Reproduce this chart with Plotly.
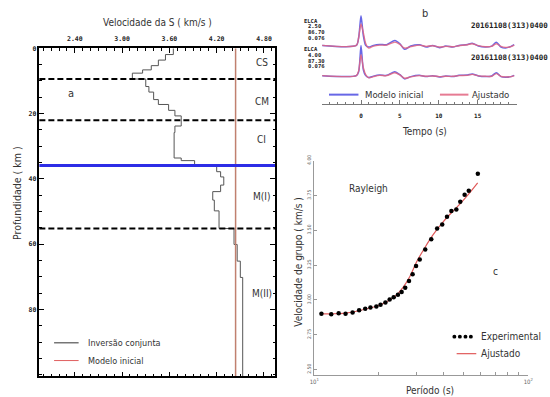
import plotly.graph_objects as go

W, H = 550, 397
def px(x): return x / W
def py(y): return 1 - y / H

FONT = "Liberation Sans Narrow, DejaVu Sans Condensed, Arial Narrow, sans-serif"
MONO = "DejaVu Sans Mono, Liberation Mono, monospace"

# ---------------- panel a : S-velocity model ----------------
layer_top_km = [0, 1.9, 3.6, 5.3, 6.6, 7.6, 9.4, 11.7, 13.4, 15.7, 17.2, 19.0, 20.7,
                23.8, 25.8, 33.6, 34.4, 36.0, 37.8, 39.4, 41.9, 43.9, 46.5, 49.8,
                55.2, 60.1, 65.2, 70.2]
layer_vs_kms = [3.65, 3.55, 3.46, 3.37, 3.26, 3.13, 3.30, 3.34, 3.40, 3.46, 3.59, 3.67, 3.75,
                3.67, 3.66, 3.75, 3.92, 4.20, 4.25, 4.29, 4.25, 4.15, 4.17, 4.23,
                4.42, 4.46, 4.50, 4.53]
model_bottom_km = 100.5
initial_model_vs = 4.44
dashed_boundaries_km = [9.4, 22.0, 55.2]
moho_km = 35.9
vs_ticks = [2.40, 3.00, 3.60, 4.20, 4.80]
depth_ticks = [0, 20, 40, 60, 80]

# ---------------- panel b : receiver functions ----------------
rf_time_s = [-5.0, -0.6, -0.3, 0.0, 0.3, 0.6, 1.0, 1.6, 2.4, 3.3, 4.35, 5.0, 5.6, 6.4, 7.5,
             8.4, 9.2, 10.1, 10.9, 11.8, 12.6, 13.7, 14.3, 15.1, 16.0, 16.8, 17.4, 18.0,
             18.6, 19.3, 19.7]
rf1_initial = [0, 0, 8, 30, 10, 0, -1.7, 0, 1, 0.7, 5, 1.7, -4, -0.7, 0.7, -1.7, 0, -2.3,
               -0.7, -1.7, 0, 1, 2.3, -0.7, -1.7, -0.7, 3.3, -1.7, -2.7, -1, 0.7]
rf1_fit = [0, 0, 8, 21.7, 13, 2, -2.7, -0.7, 0.3, 0.3, 3.3, 1, -2.7, -1.3, 0.3, -1, -0.3,
           -1.7, -1, -1.3, -0.3, 0.7, 1.7, -0.3, -1.3, -1, 1.7, -1, -2, -1.3, 0.3]
rf2_initial = [0, 0, 4, 30.7, 6, 0, -2, -0.5, 0.7, 0.3, 4, 1, -3.3, -1, 0.3, -1, 0, -1.3,
               -0.3, -1, 0.3, 0.7, 1.7, -0.3, -1, -0.3, 3, -1, -1.7, -1, 0.3]
rf2_fit = [0, 0, 5, 21.3, 8, 1, -2.3, -1, 0.3, 0, 3, 0.7, -2.7, -1.3, 0, -0.7, -0.3, -1,
           -0.7, -0.7, 0, 0.3, 1.3, -0.3, -0.7, -0.7, 2, -0.7, -1.3, -1, 0]
rf_labels = [["ELCA", "2.50", "86.70", "0.076"], ["ELCA", "4.00", "87.30", "0.076"]]
rf_event = "20161108(313)0400"
time_ticks = [0, 5, 10, 15]

# ---------------- panel c : Rayleigh group velocity dispersion ----------------
period_obs_s = [10.8, 12.0, 13.0, 14.0, 15.1, 16.2, 17.3, 18.3, 19.5, 20.4, 21.5, 22.5, 23.5,
                24.6, 25.6, 26.6, 27.7, 28.8, 29.9, 31.1, 33.0, 35.2, 37.5, 39.6, 41.7,
                43.7, 46.1, 48.1, 50.4, 52.7, 58.1]
u_obs_kms = [2.900, 2.896, 2.903, 2.900, 2.910, 2.925, 2.937, 2.946, 2.953, 2.965, 2.981,
             3.002, 3.019, 3.036, 3.057, 3.087, 3.135, 3.184, 3.243, 3.290, 3.361, 3.436,
             3.512, 3.542, 3.597, 3.639, 3.649, 3.705, 3.755, 3.783, 3.906]
period_fit_s = [10.8, 12, 14, 16, 18, 20, 22, 24, 26, 28, 30, 33, 36, 40, 44, 48, 52, 58]
u_fit_kms = [2.900, 2.900, 2.905, 2.920, 2.940, 2.960, 2.990, 3.030, 3.090, 3.170, 3.270,
             3.380, 3.470, 3.560, 3.630, 3.690, 3.750, 3.840]
u_ticks = [2.50, 2.75, 3.00, 3.25, 3.50, 3.75, 4.00]

BLUE = "rgba(90,90,228,0.92)"
PINK = "rgba(226,100,128,0.85)"

fig = go.Figure()

# panel a traces
fig.add_trace(go.Scatter(
    x=layer_vs_kms + [layer_vs_kms[-1]], y=layer_top_km + [model_bottom_km],
    mode="lines", line=dict(color="#555", width=1, shape="vh"),
    name="Inversão conjunta", xaxis="x", yaxis="y"))
fig.add_trace(go.Scatter(
    x=[initial_model_vs, initial_model_vs], y=[0, model_bottom_km],
    mode="lines", line=dict(color="#c0806f", width=1.5),
    name="Modelo inicial", xaxis="x", yaxis="y"))

# panel b traces
rf_offsets = [-40, -70.7]
for off, ini, fit in [(rf_offsets[0], rf1_initial, rf1_fit), (rf_offsets[1], rf2_initial, rf2_fit)]:
    fig.add_trace(go.Scatter(x=rf_time_s, y=[off + v for v in ini], mode="lines",
                             line=dict(color=BLUE, width=1.5, shape="spline", smoothing=0.7),
                             name="Modelo inicial", xaxis="x2", yaxis="y2"))
    fig.add_trace(go.Scatter(x=rf_time_s, y=[off + v for v in fit], mode="lines",
                             line=dict(color=PINK, width=1.4, shape="spline", smoothing=0.7),
                             name="Ajustado", xaxis="x2", yaxis="y2"))

# panel c traces
fig.add_trace(go.Scatter(x=period_fit_s, y=u_fit_kms, mode="lines",
                         line=dict(color="#e05a5a", width=1.2, shape="spline"),
                         name="Ajustado", xaxis="x3", yaxis="y3"))
fig.add_trace(go.Scatter(x=period_obs_s, y=u_obs_kms, mode="markers",
                         marker=dict(color="black", size=4.5),
                         name="Experimental", xaxis="x3", yaxis="y3"))

shapes = []
for d in dashed_boundaries_km:
    shapes.append(dict(type="line", xref="x domain", yref="y", x0=0, x1=1, y0=d, y1=d,
                       line=dict(color="black", width=2, dash="6px,3px")))
shapes.append(dict(type="line", xref="x domain", yref="y", x0=0, x1=1, y0=moho_km, y1=moho_km,
                   line=dict(color="rgb(45,45,230)", width=3)))

def pline(x0, x1, y, color, width):
    shapes.append(dict(type="line", xref="paper", yref="paper", x0=px(x0), x1=px(x1),
                       y0=py(y), y1=py(y), line=dict(color=color, width=width)))

# legends drawn as samples
pline(50, 75, 342, "#333", 1)
pline(50, 75, 360, "#e06060", 1)
pline(330, 360, 90, BLUE, 2)
pline(443, 472, 90, PINK, 2)
pline(460, 480, 353, "#e05a5a", 1.2)
for cx in [457.7, 463.3, 469, 474.5]:
    shapes.append(dict(type="circle", xref="paper", yref="paper",
                       x0=px(cx - 2), x1=px(cx + 2), y0=py(335.7 + 2), y1=py(335.7 - 2),
                       fillcolor="black", line=dict(width=0)))

annotations = []
def ann(x, y, text, size, family=FONT, xanchor="center", color="#333", angle=0, weight="normal"):
    annotations.append(dict(x=px(x), y=py(y), xref="paper", yref="paper", text=text,
                            showarrow=False, xanchor=xanchor, yanchor="middle", textangle=angle,
                            font=dict(family=family, size=size, color=color, weight=weight)))

def dann(xv, yv, text, size):
    annotations.append(dict(x=xv, y=yv, xref="x", yref="y", text=text, showarrow=False,
                            font=dict(family=FONT, size=size, color="#333")))

# panel a text
ann(155, 17, "Velocidade da S ( km/s )", 10)
ann(12, 190, "Profundidade ( km )", 10.5, angle=-90)
ann(67, 89, "a", 11)
dann(4.775, 4.2, "CS", 10)
dann(4.775, 16.3, "CM", 10)
dann(4.775, 27.8, "CI", 10)
dann(4.775, 45.3, "M(I)", 10)
dann(4.775, 75.2, "M(II)", 10)
ann(82, 342, "Inversão conjunta", 9, xanchor="left")
ann(82, 360, "Modelo inicial", 9, xanchor="left")

# panel b text
ann(428, 8, "b", 11)
for gi, base_y in enumerate([15, 44]):
    for li, t in enumerate(rf_labels[gi]):
        ann(303 if li == 0 else 307, base_y + li * 5.8, t, 5.5, family=MONO, xanchor="left",
            weight="bold", color="#222")
ann(473, 20, rf_event, 7.5, family=MONO, xanchor="left", weight="bold", color="#222")
ann(473, 52, rf_event, 7.5, family=MONO, xanchor="left", weight="bold", color="#222")
ann(365, 90, "Modelo inicial", 9.5, xanchor="left")
ann(474, 90, "Ajustado", 9.5, xanchor="left")
ann(427, 127, "Tempo (s)", 10)

# panel c text
ann(298, 260, "Velocidade de grupo ( km/s )", 10, angle=-90)
ann(370, 185, "Rayleigh", 10)
ann(500, 270, "c", 10)
ann(433, 390, "Período (s)", 10)
ann(483, 336, "Experimental", 10, xanchor="left")
ann(483, 353, "Ajustado", 10, xanchor="left")

fig.update_layout(
    width=W, height=H, margin=dict(l=0, r=0, t=0, b=0),
    paper_bgcolor="white", plot_bgcolor="white", showlegend=False,
    shapes=shapes, annotations=annotations,
    xaxis=dict(domain=[px(35), px(275)], range=[1.95, 4.94], side="top", anchor="y",
               tickvals=vs_ticks, ticktext=[f"{v:.2f}" for v in vs_ticks],
               tickfont=dict(family=MONO, size=6.5, color="#222", weight="bold"),
               ticks="inside", ticklen=5, tickcolor="black", mirror="ticks", showline=True,
               linecolor="black", linewidth=1.5, showgrid=False, zeroline=False,
               ticklabelstandoff=3,
               minor=dict(ticks="inside", ticklen=2.5, dtick=0.1, tick0=2.4, tickcolor="black")),
    yaxis=dict(domain=[py(376), py(43)], range=[model_bottom_km, 0], anchor="x",
               tickvals=depth_ticks, ticktext=[str(v) for v in depth_ticks],
               tickfont=dict(family=MONO, size=6.5, color="#222", weight="bold"),
               ticks="inside", ticklen=5, tickcolor="black", mirror="ticks", showline=True,
               linecolor="black", linewidth=1.5, showgrid=False, zeroline=False,
               minor=dict(ticks="inside", ticklen=2.5, dtick=5, tickcolor="black")),
    xaxis2=dict(domain=[px(323), px(521)], range=[-5, 20], anchor="y2",
                tickvals=time_ticks, ticktext=[str(v) for v in time_ticks],
                tickfont=dict(family=MONO, size=6, color="#222", weight="bold"),
                ticks="inside", ticklen=4, tickcolor="#777", showline=True, linecolor="#777",
                linewidth=1, showgrid=False, zeroline=False, ticklabelstandoff=5,
                minor=dict(ticks="inside", ticklen=2.5, dtick=1, tick0=-5, tickcolor="#777")),
    yaxis2=dict(domain=[py(100), 1.0], range=[-100, 0], anchor="x2", visible=False),
    xaxis3=dict(domain=[px(315), px(533)], type="log", range=[1, 2], anchor="y3",
                tickvals=[10, 100], ticktext=["10<sup>1</sup>", "10<sup>2</sup>"],
                tickfont=dict(family=FONT, size=6, color="#666"),
                ticks="inside", ticklen=4, tickcolor="#999", showline=True, linecolor="#999",
                linewidth=1, showgrid=False, zeroline=False,
                minor=dict(ticks="inside", ticklen=3, tickcolor="#999",
                           tickvals=[20, 30, 40, 50, 60, 70, 80, 90])),
    yaxis3=dict(domain=[py(375), py(157)], range=[2.458, 4.0], anchor="x3",
                tickvals=u_ticks, ticktext=[f"{v:.2f}" for v in u_ticks], tickangle=-90,
                tickfont=dict(family=FONT, size=5, color="#666"),
                ticks="inside", ticklen=3, tickcolor="#999", showline=True, linecolor="#999",
                linewidth=1, showgrid=False, zeroline=False),
)

fig.write_html("out.html")
